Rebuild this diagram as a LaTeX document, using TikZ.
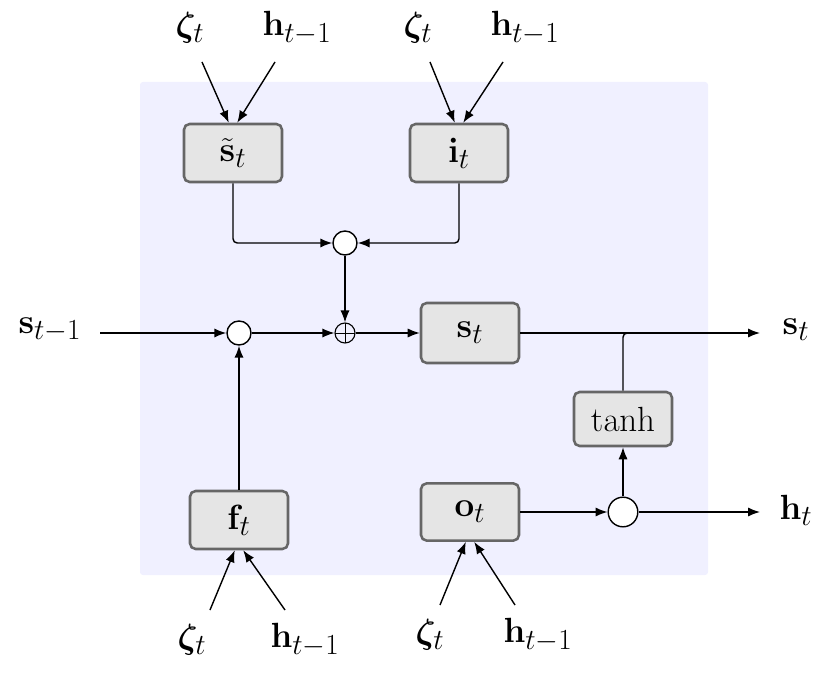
\documentclass[tikz,border=0pt]{standalone}
\usepackage{amsmath,amssymb,bm}
\usetikzlibrary{arrows.meta}
\begin{document}
\begin{tikzpicture}[line width=1pt, >={Latex[length=3mm,width=2.3mm]},
                    gate/.style={draw=black!60, line width=1.8pt, fill=black!10, rounded corners=4pt,
                                 minimum width=2.45cm, minimum height=1.45cm, font=\Huge},
                    mult/.style={circle, draw, line width=1pt, fill=white, minimum size=0.6cm, inner sep=0pt},
                    addop/.style={circle, draw, line width=0.8pt, minimum size=0.5cm, inner sep=0pt,
                                  path picture={\draw[line width=0.6pt] (path picture bounding box.north) -- (path picture bounding box.south)
                                  (path picture bounding box.west) -- (path picture bounding box.east);}},
                    lbl/.style={font=\Huge}]

  \useasboundingbox (0,0) rectangle (20.75,16.85);
  \fill[blue!6, rounded corners=2pt] (3.5,2.475) rectangle (17.7,14.8);

  % gates
  \node[gate] (cand) at (5.825,13.025) {$\tilde{\mathbf{s}}_t$};
  \node[gate] (inp) at (11.475,13.025) {$\mathbf{i}_t$};
  \node[gate, minimum height=1.5cm] (state) at (11.75,8.525) {$\mathbf{s}_t$};
  \node[gate, minimum height=1.35cm] (tanh) at (15.575,6.375) {$\tanh$};
  \node[gate] (forg) at (5.975,3.85) {$\mathbf{f}_t$};
  \node[gate, minimum height=1.43cm] (outg) at (11.75,4.05) {$\mathbf{o}_t$};

  % operators
  \node[mult] (m1) at (8.625,10.775) {};
  \node[mult] (m2) at (5.975,8.525) {};
  \node[addop] (add) at (8.625,8.525) {};
  \node[mult, minimum size=0.74cm] (m3) at (15.575,4.05) {};

  % inputs and outputs
  \node[lbl] (z1) at (4.75,16.15) {$\bm{\zeta}_t$};
  \node[lbl] (h1) at (7.425,16.15) {$\mathbf{h}_{t-1}$};
  \node[lbl] (z2) at (10.45,16.15) {$\bm{\zeta}_t$};
  \node[lbl] (h2) at (13.125,16.15) {$\mathbf{h}_{t-1}$};
  \node[lbl] (z3) at (4.8,0.85) {$\bm{\zeta}_t$};
  \node[lbl] (h3) at (7.625,0.85) {$\mathbf{h}_{t-1}$};
  \node[lbl] (z4) at (10.75,0.975) {$\bm{\zeta}_t$};
  \node[lbl] (h4) at (13.45,0.975) {$\mathbf{h}_{t-1}$};
  \node[lbl] (sprev) at (1.25,8.6) {$\mathbf{s}_{t-1}$};
  \node[lbl] (sout) at (19.9,8.6) {$\mathbf{s}_t$};
  \node[lbl] (hout) at (19.9,4.1) {$\mathbf{h}_t$};

  \coordinate (z1s) at (5.05,15.3);   \coordinate (h1s) at (6.875,15.3);
  \coordinate (z2s) at (10.75,15.3);  \coordinate (h2s) at (12.575,15.3);
  \coordinate (z3s) at (5.25,1.6);    \coordinate (h3s) at (7.125,1.6);
  \coordinate (z4s) at (11,1.725);    \coordinate (h4s) at (12.875,1.725);
  \coordinate (sin) at (2.5,8.525);
  \coordinate (send) at (19,8.525);
  \coordinate (hend) at (19,4.05);

  \draw[->] (z1s) -- ([xshift=-3pt]cand.north);
  \draw[->] (h1s) -- ([xshift=3pt]cand.north);
  \draw[->] (z2s) -- ([xshift=-3pt]inp.north);
  \draw[->] (h2s) -- ([xshift=3pt]inp.north);
  \draw[->] (z3s) -- ([xshift=-3pt]forg.south);
  \draw[->] (h3s) -- ([xshift=3pt]forg.south);
  \draw[->] (z4s) -- ([xshift=-3pt]outg.south);
  \draw[->] (h4s) -- ([xshift=3pt]outg.south);

  \draw[->, rounded corners=3pt] (cand.south) |- (m1);
  \draw[->, rounded corners=3pt] (inp.south) |- (m1);
  \draw[->] (m1) -- (add);
  \draw[->] (sin) -- (m2);
  \draw[->] (m2) -- (add);
  \draw[->] (forg) -- (m2);
  \draw[->] (add) -- (state);
  \draw[->] (state) -- (send);
  \draw[rounded corners=3pt] (tanh.north) -- (tanh.north |- state.east) -- ++(0.3,0);
  \draw[->] (outg) -- (m3);
  \draw[->] (m3) -- (tanh);
  \draw[->] (m3) -- (hend);

\end{tikzpicture}
\end{document}
